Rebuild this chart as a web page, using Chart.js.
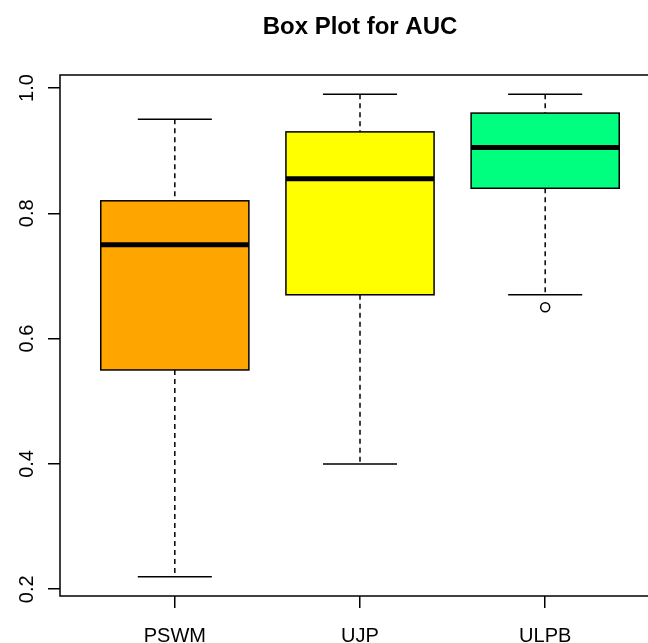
<!DOCTYPE html>
<html>
<head>
<meta charset="utf-8">
<script src="https://cdn.jsdelivr.net/npm/chart.js@4/dist/chart.umd.min.js"></script>
<style>
  html, body { margin: 0; padding: 0; background: #fff; }
  #wrap { width: 648px; height: 643px; overflow: hidden; }
  canvas { display: block; }
</style>
</head>
<body>
<div id="wrap"><canvas id="c" width="672" height="643"></canvas></div>
<script>
// AUC distribution per method
const categories    = ['PSWM', 'UJP', 'ULPB'];
const lowerWhisker  = [0.22, 0.40, 0.67];
const lowerQuartile = [0.55, 0.67, 0.84];
const medians       = [0.75, 0.855, 0.905];
const upperQuartile = [0.82, 0.93, 0.96];
const upperWhisker  = [0.95, 0.99, 0.99];
const outliers      = [[], [], [0.65]];
const boxColors     = ['#FFA500', '#FFFF00', '#00FF7F'];
const yTickValues   = [0.2, 0.4, 0.6, 0.8, 1.0];

const FONT = "'Liberation Sans', Arial, Helvetica, sans-serif";
const BOX_HALF = 0.4;   // half box width, in x units
const CAP_HALF = 0.2;   // half whisker-cap width, in x units

const outlierPoints = [];
outliers.forEach((list, i) => list.forEach(v => outlierPoints.push({ x: i + 1, y: v })));

// Draws boxes, whiskers, medians and the plot frame from the scales
const boxPlotPlugin = {
  id: 'boxPlot',
  beforeDatasetsDraw(chart) {
    const { ctx, scales: { x, y } } = chart;
    ctx.save();
    categories.forEach((name, i) => {
      const pos = i + 1;
      const cx = x.getPixelForValue(pos);
      const bl = x.getPixelForValue(pos - BOX_HALF);
      const br = x.getPixelForValue(pos + BOX_HALF);
      const cl = x.getPixelForValue(pos - CAP_HALF);
      const cr = x.getPixelForValue(pos + CAP_HALF);
      const yLo = y.getPixelForValue(lowerWhisker[i]);
      const yQ1 = y.getPixelForValue(lowerQuartile[i]);
      const yMd = y.getPixelForValue(medians[i]);
      const yQ3 = y.getPixelForValue(upperQuartile[i]);
      const yHi = y.getPixelForValue(upperWhisker[i]);

      // dashed whiskers
      ctx.strokeStyle = '#000';
      ctx.lineWidth = 1.5;
      ctx.setLineDash([5, 4]);
      ctx.beginPath();
      ctx.moveTo(cx, yHi); ctx.lineTo(cx, yQ3);
      ctx.moveTo(cx, yQ1); ctx.lineTo(cx, yLo);
      ctx.stroke();

      // whisker caps
      ctx.setLineDash([]);
      ctx.beginPath();
      ctx.moveTo(cl, yHi); ctx.lineTo(cr, yHi);
      ctx.moveTo(cl, yLo); ctx.lineTo(cr, yLo);
      ctx.stroke();

      // box
      ctx.fillStyle = boxColors[i];
      ctx.fillRect(bl, yQ3, br - bl, yQ1 - yQ3);
      ctx.strokeRect(bl, yQ3, br - bl, yQ1 - yQ3);

      // median
      ctx.lineWidth = 5;
      ctx.lineCap = 'butt';
      ctx.beginPath();
      ctx.moveTo(bl, yMd); ctx.lineTo(br, yMd);
      ctx.stroke();
    });
    ctx.restore();
  },
  afterDraw(chart) {
    const { ctx, chartArea: a } = chart;
    ctx.save();
    ctx.strokeStyle = '#000';
    ctx.lineWidth = 1.5;
    ctx.strokeRect(a.left, a.top, a.right - a.left, a.bottom - a.top);
    ctx.restore();
  }
};

new Chart(document.getElementById('c'), {
  type: 'scatter',
  data: {
    datasets: [{
      label: 'Outliers',
      data: outlierPoints,
      pointStyle: 'circle',
      pointRadius: 4.5,
      pointHoverRadius: 4.5,
      borderWidth: 1.5,
      borderColor: '#000',
      backgroundColor: 'rgba(0,0,0,0)'
    }]
  },
  options: {
    responsive: false,
    animation: false,
    events: [],
    layout: { padding: { left: 0, right: 12, top: 0, bottom: 0 } },
    plugins: {
      legend: { display: false },
      tooltip: { enabled: false },
      title: {
        display: true,
        text: 'Box Plot for AUC',
        fullSize: false,
        color: '#000',
        font: { family: FONT, size: 24, weight: 'bold', lineHeight: 1.2 },
        padding: { top: 13, bottom: 33.2 }
      }
    },
    scales: {
      x: {
        type: 'linear',
        min: 0.38,
        max: 3.62,
        afterBuildTicks: s => { s.ticks = categories.map((c, i) => ({ value: i + 1 })); },
        afterFit: s => { s.height = 47; },
        ticks: {
          callback: v => categories[Math.round(v) - 1] ?? '',
          color: '#000',
          font: { family: FONT, size: 20 },
          padding: 16,
          maxRotation: 0,
          autoSkip: false
        },
        grid: { drawOnChartArea: false, color: '#000', tickColor: '#000', tickLength: 12, lineWidth: 1.5 },
        border: { display: false }
      },
      y: {
        type: 'linear',
        min: 0.1892,
        max: 1.0208,
        afterBuildTicks: s => { s.ticks = yTickValues.map(v => ({ value: v })); },
        afterFit: s => { s.width = 60; },
        ticks: {
          callback: v => v.toFixed(1),
          color: '#000',
          font: { family: FONT, size: 20 },
          minRotation: 90,
          maxRotation: 90,
          crossAlign: 'center',
          padding: 6.6
        },
        grid: { drawOnChartArea: false, color: '#000', tickColor: '#000', tickLength: 12, lineWidth: 1.5 },
        border: { display: false }
      }
    }
  },
  plugins: [boxPlotPlugin]
});
</script>
</body>
</html>
